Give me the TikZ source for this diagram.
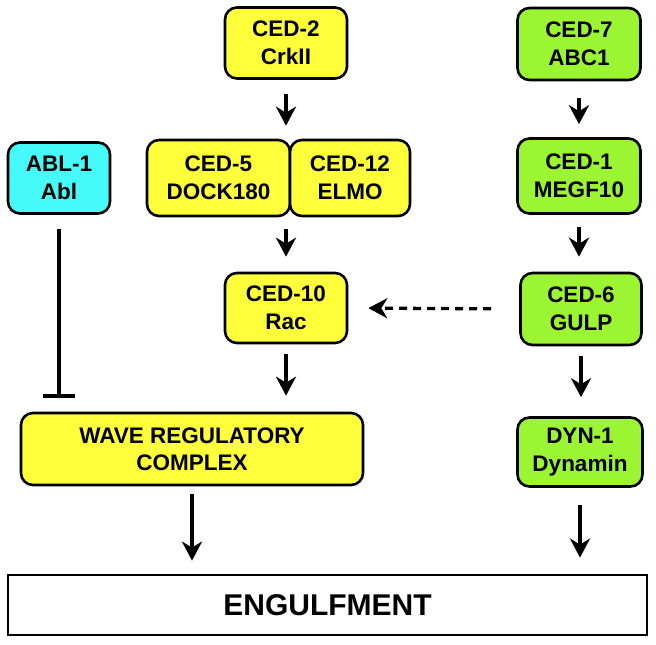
\documentclass[tikz,border=0pt]{standalone}
\usepackage{fontspec}
\setmainfont{Liberation Sans}
\usetikzlibrary{arrows.meta}
\definecolor{yfill}{RGB}{255,255,60}
\definecolor{gfill}{RGB}{155,245,50}
\definecolor{cfill}{RGB}{70,250,250}
\begin{document}
\begin{tikzpicture}[x=1pt,y=-1pt,
  box/.style={draw=black, line width=2.6pt, rounded corners=12pt, inner sep=0pt,
    align=center, font=\fontsize{22.5}{27.5}\selectfont\bfseries},
  ybox/.style={box, fill=yfill},
  gbox/.style={box, fill=gfill},
  cbox/.style={box, fill=cfill},
  arr/.style={line width=3.3pt, -{Stealth[length=19pt,width=20pt,inset=6pt]}},
  dasharr/.style={arr, dash pattern=on 8pt off 6pt},
  inh/.style={line width=3.3pt, -{Bar[width=32pt,line width=3.8pt]}}
]
\useasboundingbox (0,0) rectangle (656,645);

\node[ybox, minimum width=122pt, minimum height=71pt] (ced2) at (286,43) {CED-2\\CrkII};
\node[ybox, minimum width=143pt, minimum height=76pt] (ced5) at (218.5,178) {CED-5\\DOCK180};
\node[ybox, minimum width=120pt, minimum height=76pt] (ced12) at (350,178) {CED-12\\ELMO};
\node[ybox, minimum width=122pt, minimum height=70pt] (ced10) at (286,308) {CED-10\\Rac};
\node[ybox, minimum width=342pt, minimum height=72pt] (wave) at (192,449) {WAVE REGULATORY\\COMPLEX};
\node[cbox, minimum width=102pt, minimum height=71pt] (abl) at (59,178) {ABL-1\\Abl};

\node[gbox, minimum width=123pt, minimum height=72pt] (ced7) at (579,44) {CED-7\\ABC1};
\node[gbox, minimum width=123pt, minimum height=75pt] (ced1) at (579,176) {CED-1\\MEGF10};
\node[gbox, minimum width=121pt, minimum height=72pt] (ced6) at (581,309) {CED-6\\GULP};
\node[gbox, minimum width=125pt, minimum height=69pt] (dyn) at (580,452) {DYN-1\\Dynamin};

\node[draw=black, line width=2.8pt, fill=white, minimum width=639pt, minimum height=60pt,
  inner sep=0pt, font=\fontsize{30}{35}\selectfont\bfseries] (eng) at (327.5,605) {ENGULFMENT};

% left column arrows
\draw[arr, shorten <=14pt, shorten >=13pt] (ced2.south) -- (ced2.south |- ced5.north);
\draw[arr, shorten <=12pt, shorten >=15pt] (ced10.north |- ced5.south) -- (ced10.north);
\draw[arr, shorten <=10pt, shorten >=16pt] (ced10.south) -- (ced10.south |- wave.north);
\draw[arr, shorten <=8pt, shorten >=13pt] (wave.south) -- (wave.south |- eng.north);
% inhibition
\draw[inh, shorten <=14pt, shorten >=14pt] (abl.south) -- (abl.south |- wave.north);
% right column arrows
\draw[arr, shorten <=17pt, shorten >=13pt] (ced7.south) -- (ced7.south |- ced1.north);
\draw[arr, shorten <=12pt, shorten >=15pt] (ced1.south) -- (ced1.south |- ced6.north);
\draw[arr, shorten <=10pt, shorten >=19pt] (ced6.south) -- (ced6.south |- dyn.north);
\draw[arr, shorten <=17pt, shorten >=16pt] (dyn.south) -- (dyn.south |- eng.north);
% dashed
\draw[dasharr, shorten <=28pt, shorten >=20pt] (ced6.west) -- (ced10.east);
\end{tikzpicture}
\end{document}
